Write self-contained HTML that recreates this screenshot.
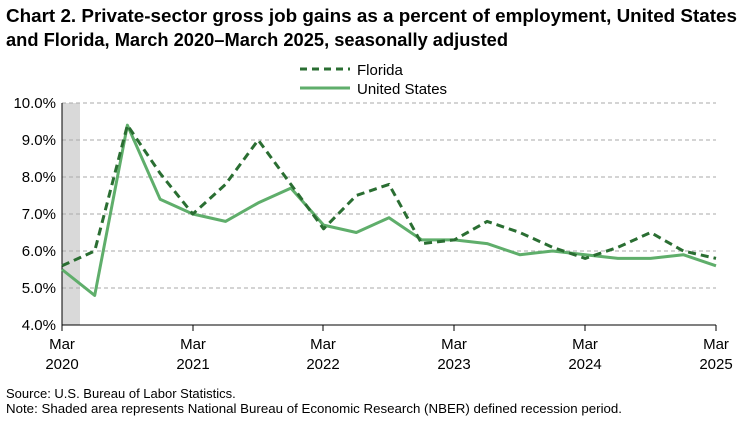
<!DOCTYPE html>
<html><head><meta charset="utf-8"><style>
body{margin:0;background:#fff;font-family:"Liberation Sans",Arial,sans-serif;}
</style></head><body>
<svg width="750" height="420" xmlns="http://www.w3.org/2000/svg" font-family="Liberation Sans, Arial, sans-serif">
<rect width="750" height="420" fill="#fff"/>
<text x="6" y="22" font-size="18" font-weight="bold" fill="#000" textLength="731" lengthAdjust="spacingAndGlyphs">Chart 2. Private-sector gross job gains as a percent of employment, United States</text>
<text x="6" y="46" font-size="18" font-weight="bold" fill="#000" textLength="502" lengthAdjust="spacingAndGlyphs">and Florida, March 2020–March 2025, seasonally adjusted</text>
<line x1="300" y1="69" x2="350" y2="69" stroke="#2a6e32" stroke-width="3" stroke-dasharray="7,5"/>
<text x="357" y="75" font-size="15">Florida</text>
<line x1="300" y1="88" x2="350" y2="88" stroke="#5fae6b" stroke-width="3"/>
<text x="357" y="94" font-size="15">United States</text>
<rect x="62" y="103" width="18" height="222" fill="#d9d9d9"/>
<g stroke="#aaa" stroke-dasharray="4,3" stroke-width="1">
<line x1="62" y1="103" x2="716" y2="103"/><line x1="62" y1="140" x2="716" y2="140"/>
<line x1="62" y1="177" x2="716" y2="177"/><line x1="62" y1="214" x2="716" y2="214"/>
<line x1="62" y1="251" x2="716" y2="251"/><line x1="62" y1="288" x2="716" y2="288"/>
</g>
<line x1="62" y1="325" x2="716" y2="325" stroke="#000"/>
<line x1="62" y1="103" x2="62" y2="325" stroke="#000"/>
<g stroke="#000"><line x1="62" y1="325" x2="62" y2="331"/><line x1="193" y1="325" x2="193" y2="331"/><line x1="323" y1="325" x2="323" y2="331"/><line x1="454" y1="325" x2="454" y2="331"/><line x1="585" y1="325" x2="585" y2="331"/><line x1="716" y1="325" x2="716" y2="331"/></g>
<g font-size="15" text-anchor="end">
<text x="56" y="108">10.0%</text><text x="56" y="145">9.0%</text><text x="56" y="182">8.0%</text>
<text x="56" y="219">7.0%</text><text x="56" y="256">6.0%</text><text x="56" y="293">5.0%</text><text x="56" y="330">4.0%</text>
</g>
<g font-size="15" text-anchor="middle">
<text x="62" y="349">Mar</text><text x="62" y="369">2020</text>
<text x="193" y="349">Mar</text><text x="193" y="369">2021</text>
<text x="323" y="349">Mar</text><text x="323" y="369">2022</text>
<text x="454" y="349">Mar</text><text x="454" y="369">2023</text>
<text x="585" y="349">Mar</text><text x="585" y="369">2024</text>
<text x="716" y="349">Mar</text><text x="716" y="369">2025</text>
</g>
<polyline fill="none" stroke="#5fae6b" stroke-width="3" stroke-linejoin="round" points="62,269.5 94.7,295.4 127.4,125.2 160.1,199.2 192.8,214 225.5,221.4 258.2,202.9 290.9,188.1 323.6,225.1 356.3,232.5 389,217.7 421.7,239.9 454.4,239.9 487.1,243.6 519.8,254.7 552.5,251 585.2,254.7 617.9,258.4 650.6,258.4 683.3,254.7 716,265.8"/>
<polyline fill="none" stroke="#2a6e32" stroke-width="3" stroke-dasharray="8,5" stroke-linejoin="round" points="62,265.8 94.7,251 127.4,125.2 160.1,173.3 192.8,214 225.5,184.4 258.2,140 290.9,184.4 323.6,228.8 356.3,195.5 389,184.4 421.7,243.6 454.4,239.9 487.1,221.4 519.8,232.5 552.5,247.3 585.2,258.4 617.9,247.3 650.6,232.5 683.3,251 716,258.4"/>
<text x="6" y="398" font-size="13">Source: U.S. Bureau of Labor Statistics.</text>
<text x="6" y="413" font-size="13" textLength="616" lengthAdjust="spacingAndGlyphs">Note: Shaded area represents National Bureau of Economic Research (NBER) defined recession period.</text>
</svg>
</body></html>
